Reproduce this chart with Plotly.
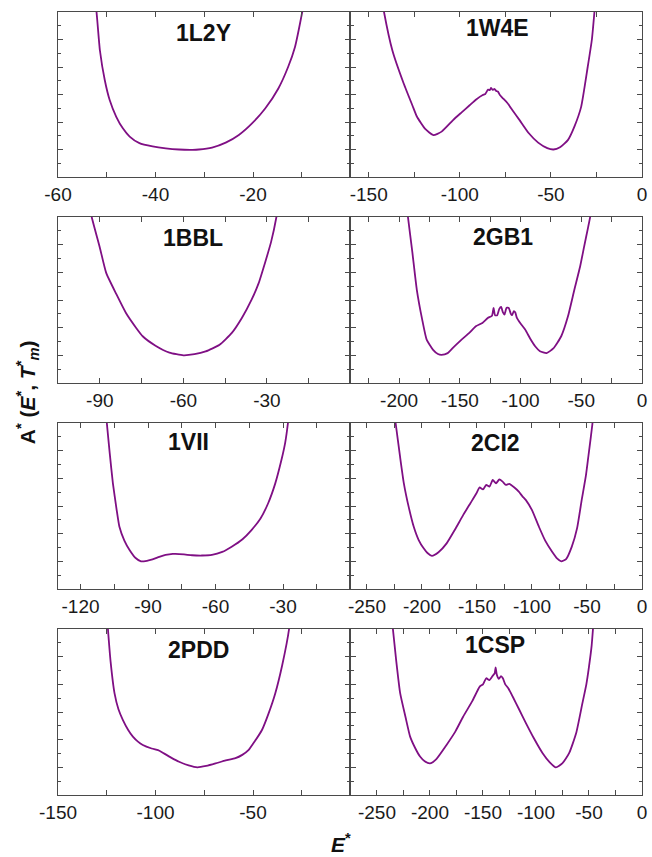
import plotly.graph_objects as go

# ---------------- data ----------------
names = ["1L2Y", "1W4E", "1BBL", "2GB1", "1VII", "2CI2", "2PDD", "1CSP"]

x_1L2Y = [-52.6, -52.1, -51.4, -50.4, -49.4, -48.05, -46.7, -45.3, -43.3, -40.6, -37.9, -35.2, -32.4, -31.1,
          -28.4, -25.6, -22.9, -20.2, -17.5, -14.8, -12.8, -11.4, -9.9, -9.5]
y_1L2Y = [6.6, 6.0, 4.6, 3.52, 2.8, 2.19, 1.77, 1.47, 1.23, 1.11, 1.04, 1.0, 0.99, 1.0,
          1.07, 1.25, 1.53, 1.95, 2.49, 3.22, 4.0, 4.72, 6.0, 6.4]

x_1W4E = [-143, -141.6, -137, -130.8, -126, -123.5, -119, -114.5, -110, -103.7, -99, -94.6, -91, -87.4, -86,
          -84.5, -83.5, -82.9, -82, -81, -80, -79, -78, -76.6, -74, -71.1, -67, -62.1, -57, -52, -48.6, -45,
          -40.6, -37, -33.4, -29.8, -27.5, -26.1, -25.5]
y_1W4E = [6.6, 6.0, 4.6, 3.4, 2.6, 2.19, 1.75, 1.52, 1.65, 2.07, 2.35, 2.61, 2.82, 2.98, 3.02,
          3.18, 3.16, 3.24, 3.17, 3.2, 3.13, 3.1, 2.98, 2.88, 2.7, 2.43, 2.05, 1.59, 1.25, 1.05, 1.0, 1.08,
          1.35, 1.85, 2.55, 4.0, 5.0, 6.0, 6.5]

x_1BBL = [-94, -92.9, -90, -87.7, -84, -80.6, -77, -74.6, -70, -65, -60, -56, -52, -47, -42.6, -39, -35.5,
          -33, -30.7, -28.5, -26.6, -26]
y_1BBL = [6.6, 6.0, 4.9, 3.98, 3.2, 2.53, 2.0, 1.69, 1.35, 1.1, 1.0, 1.04, 1.14, 1.38, 1.81, 2.35, 3.01,
          3.6, 4.34, 5.1, 6.0, 6.4]

x_2GB1 = [-194, -192.7, -189, -185.4, -181, -177.3, -172, -168, -165.1, -160, -155.7, -149, -142.2, -136.8,
          -131.4, -127, -123.5, -122.2, -121, -119.2, -117.5, -116, -114.5, -113.2, -111.5, -109.7, -108, -107,
          -105.5, -104.3, -103, -100, -96.2, -92, -88, -84, -78.6, -73, -66.5, -61, -55.7, -51, -47.6, -44.5,
          -42.7, -42]
y_2GB1 = [6.6, 6.0, 4.7, 3.37, 2.3, 1.57, 1.2, 1.05, 1.02, 1.08, 1.27, 1.55, 1.81, 2.05,
          2.17, 2.35, 2.43, 2.71, 2.45, 2.45, 2.68, 2.75, 2.55, 2.47, 2.72, 2.71, 2.5, 2.45,
          2.6, 2.55, 2.35, 2.15, 1.93, 1.6, 1.33, 1.15, 1.08, 1.25, 1.69, 2.4, 3.37, 4.2, 4.94, 5.6,
          6.0, 6.4]

x_1VII = [-109, -108.3, -107, -105.6, -104, -102.7, -100.5, -98.2, -95.5, -93.1, -90.5, -88, -85, -82.2, -79,
          -77.8, -74, -70.4, -66, -61.6, -57, -52.8, -48, -44, -40, -36.6, -33.5, -30.7, -29, -27.8, -27.3]
y_1VII = [6.6, 6.0, 4.9, 3.82, 2.9, 2.25, 1.75, 1.41, 1.12, 1.0, 1.02, 1.07, 1.16, 1.23, 1.27,
          1.27, 1.25, 1.22, 1.21, 1.23, 1.34, 1.53, 1.8, 2.13, 2.55, 3.1, 3.8, 4.66, 5.3, 6.0, 6.4]

x_2CI2 = [-226, -224, -220, -216.5, -212, -207.5, -203, -198.5, -195, -191, -185, -177.6, -170, -162.6, -156,
          -150.6, -147.6, -144.6, -141.6, -138.6, -135.7, -132.7, -129.7, -126.7, -123.7, -120.7, -116,
          -112, -108.7, -105.7, -100, -93.7, -88, -81.7, -77, -73.4, -69, -63.8, -59, -54.8, -51, -48.8,
          -46.5, -45, -44.5]
y_2CI2 = [6.6, 6.0, 4.8, 3.82, 2.95, 2.25, 1.77, 1.47, 1.3, 1.2, 1.33, 1.65, 2.15, 2.67, 3.1,
          3.45, 3.67, 3.6, 3.76, 3.7, 3.94, 3.82, 3.96, 3.88, 3.76, 3.8, 3.67,
          3.52, 3.35, 3.22, 2.85, 2.25, 1.75, 1.35, 1.1, 1.0, 1.08, 1.53, 2.2, 3.22, 4.1, 4.78,
          5.5, 6.0, 6.4]

x_2PDD = [-125, -124.4, -123, -121, -119, -116.7, -114, -111.6, -109, -106.5, -102, -98, -96.3, -92, -87.9,
          -83, -78.5, -74, -69.2, -64, -59, -55.5, -52.2, -49, -45.4, -42, -38.6, -35, -31.5, -31]
y_2PDD = [6.6, 6.0, 4.8, 3.67, 3.1, 2.71, 2.35, 2.11, 1.93, 1.81, 1.68, 1.6, 1.53, 1.35, 1.2,
          1.07, 1.0, 1.05, 1.14, 1.25, 1.33, 1.45, 1.63, 1.95, 2.35, 2.95, 3.67, 4.7, 6.0, 6.4]

x_1CSP = [-237, -235, -232, -228.1, -223, -218.75, -214, -209.4, -205, -200, -194, -184.4, -176, -168.75,
          -160, -153.1, -150, -146.9, -144, -141, -139, -138.1, -137, -135, -133, -131.25, -129, -126,
          -121.9, -116, -109.4, -102, -93.75, -87, -81.25, -75, -68.75, -62, -56.25, -52.5, -50, -47.5,
          -46.25, -45.5]
y_1CSP = [6.6, 6.0, 4.9, 3.67, 2.8, 2.11, 1.7, 1.39, 1.22, 1.14, 1.3, 1.81, 2.3, 2.83,
          3.4, 3.92, 4.0, 4.22, 4.15, 4.3, 4.4, 4.61, 4.35, 4.2, 4.3, 4.22, 4.0, 3.85,
          3.55, 3.1, 2.59, 2.05, 1.51, 1.18, 1.0, 1.15, 1.51, 2.25, 3.31, 4.0, 4.64, 5.4,
          6.0, 6.4]

series_x = [x_1L2Y, x_1W4E, x_1BBL, x_2GB1, x_1VII, x_2CI2, x_2PDD, x_1CSP]
series_y = [y_1L2Y, y_1W4E, y_1BBL, y_2GB1, y_1VII, y_2CI2, y_2PDD, y_1CSP]

x_ranges = [[-60, 0], [-160, 0], [-105, 0], [-240, 0], [-130, 0], [-265, 0], [-150, 0], [-275, 0]]
x_tickvals = [[-60, -40, -20], [-150, -100, -50, 0], [-90, -60, -30], [-200, -150, -100, -50, 0],
              [-120, -90, -60, -30], [-250, -200, -150, -100, -50, 0], [-150, -100, -50],
              [-250, -200, -150, -100, -50, 0]]
x_minor = [10, 25, 15, 25, 15, 25, 25, 25]

# ---------------- layout geometry ----------------
W, H = 652, 857
ml, mr, mt, mb = 58, 5, 12, 62
pw, ph = W - ml - mr, H - mt - mb
col_px = [(58, 353), (353, 647)]
row_px = [(12, 177), (217, 383), (423, 589), (629, 795)]

def xdom(c):
    a, b = col_px[c]
    return [(a - ml) / pw, (b - ml) / pw]

def ydom(r):
    a, b = row_px[r]
    return [(795 - b) / ph, (795 - a) / ph]

label_pos = [(0.498, 0.871), (0.506, 0.902), (0.461, 0.872), (0.523, 0.881),
             (0.447, 0.887), (0.497, 0.881), (0.481, 0.873), (0.497, 0.904)]

FONT = "Arial, Liberation Sans, sans-serif"
AX = "#4a4a4a"
LINE = "#7f0f84"

fig = go.Figure()
layout = dict(
    width=W, height=H, margin=dict(l=ml, r=mr, t=mt, b=mb),
    paper_bgcolor="white", plot_bgcolor="white", showlegend=False,
    font=dict(family=FONT, color="#1a1a1a"),
)
annotations = []
for i in range(8):
    r, c = divmod(i, 2)
    n = i + 1
    xa = "xaxis" if n == 1 else f"xaxis{n}"
    ya = "yaxis" if n == 1 else f"yaxis{n}"
    xr = "x" if n == 1 else f"x{n}"
    yr = "y" if n == 1 else f"y{n}"
    fig.add_trace(go.Scatter(x=series_x[i], y=series_y[i], mode="lines",
                             line=dict(color=LINE, width=1.8, shape="spline", smoothing=0.5),
                             xaxis=xr, yaxis=yr, hoverinfo="skip"))
    layout[xa] = dict(
        domain=xdom(c), anchor=yr, range=x_ranges[i], tickvals=x_tickvals[i],
        ticktext=[str(v) for v in x_tickvals[i]], ticklabeloverflow="allow",
        ticks="inside", ticklen=5, tickcolor=AX, tickwidth=1,
        minor=dict(dtick=x_minor[i], tick0=0, ticks="inside", ticklen=5, tickcolor=AX),
        showline=True, linecolor=AX, linewidth=1.3, mirror="allticks",
        showgrid=False, zeroline=False, fixedrange=True,
        tickfont=dict(size=19, family=FONT, color="#1a1a1a"),
    )
    layout[ya] = dict(
        domain=ydom(r), anchor=xr, range=[0, 6], dtick=1, tick0=0,
        showticklabels=False, ticks="inside", ticklen=5, tickcolor=AX,
        minor=dict(dtick=0.5, tick0=0, ticks="inside", ticklen=3, tickcolor=AX),
        showline=True, linecolor=AX, linewidth=1.3, mirror="allticks",
        showgrid=False, zeroline=False, fixedrange=True,
    )
    lx, ly = label_pos[i]
    annotations.append(dict(text=f"<b>{names[i]}</b>", xref=f"{xr} domain", yref=f"{yr} domain",
                            x=lx, y=ly, xanchor="center", yanchor="middle", showarrow=False,
                            font=dict(size=23, family=FONT, color="#111")))

annotations.append(dict(
    text="<b>A<sup>*</sup> (<i>E</i><sup>*</sup>, <i>T</i><sup>*</sup><sub><i>m</i></sub>)</b>",
    xref="paper", yref="paper", x=(28 - ml) / pw, y=(795 - 392) / ph,
    xanchor="center", yanchor="middle", textangle=-90, showarrow=False,
    font=dict(size=21, family=FONT, color="#111")))
annotations.append(dict(
    text="<b><i>E</i><sup>*</sup></b>",
    xref="paper", yref="paper", x=(343 - ml) / pw, y=(795 - 843) / ph,
    xanchor="center", yanchor="middle", showarrow=False,
    font=dict(size=21, family=FONT, color="#111")))
layout["annotations"] = annotations
fig.update_layout(**layout)
fig.write_html("out.html")
